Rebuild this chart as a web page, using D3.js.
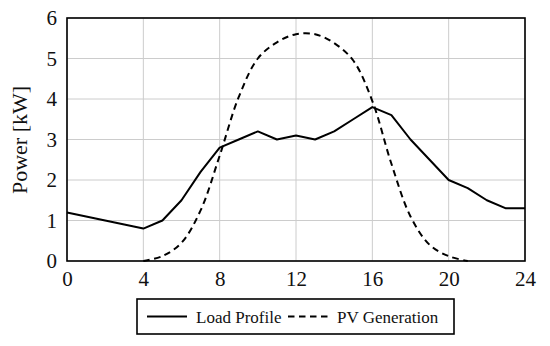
<!DOCTYPE html>
<html><head><meta charset="utf-8">
<script src="https://cdn.jsdelivr.net/npm/d3@7"></script>
<style>body{margin:0;background:#fff}svg{display:block}</style>
</head><body>
<svg id="chart" width="550" height="346"></svg>
<script>
const loadHours = [0,1,2,3,4,5,6,7,8,9,10,11,12,13,14,15,16,17,18,19,20,21,22,23,24];
const loadValues = [1.2,1.1,1.0,0.9,0.8,1.0,1.5,2.2,2.8,3.0,3.2,3.0,3.1,3.0,3.2,3.5,3.8,3.6,3.0,2.5,2.0,1.8,1.5,1.3,1.3];
const pvHours = [4,5,6,7,8,9,10,11,12,13,14,15,16,17,18,19,20,21];
const pvValues = [0,0.12,0.45,1.25,2.6,4.05,5.0,5.4,5.6,5.6,5.38,4.95,3.95,2.4,1.1,0.4,0.12,0];
const xTicks = [0,4,8,12,16,20,24];
const yTicks = [0,1,2,3,4,5,6];
const seriesNames = ["Load Profile","PV Generation"];

const svg = d3.select("#chart");
const L = 67, R = 525, T = 18, B = 261;
const x = d3.scaleLinear().domain([0,24]).range([L,R]);
const y = d3.scaleLinear().domain([0,6]).range([B,T]);
const font = "'Liberation Serif','Times New Roman',serif";

// grid
svg.append("g").selectAll("line").data(xTicks).join("line")
  .attr("x1",d=>x(d)).attr("x2",d=>x(d)).attr("y1",T).attr("y2",B)
  .attr("stroke","#cccccc").attr("stroke-width",1);
svg.append("g").selectAll("line").data(yTicks).join("line")
  .attr("x1",L).attr("x2",R).attr("y1",d=>y(d)).attr("y2",d=>y(d))
  .attr("stroke","#cccccc").attr("stroke-width",1);

// axes
const xAxis = svg.append("g").attr("transform",`translate(0,${B})`)
  .call(d3.axisBottom(x).tickValues(xTicks).tickFormat(d3.format("d")).tickSize(0).tickPadding(10));
const yAxis = svg.append("g").attr("transform",`translate(${L},0)`)
  .call(d3.axisLeft(y).tickValues(yTicks).tickFormat(d3.format("d")).tickSize(0).tickPadding(10));
[xAxis,yAxis].forEach(a=>{
  a.attr("font-family",font).attr("font-size",21);
  a.select(".domain").remove();
  a.selectAll("text").attr("fill","#111");
});

// lines
const lineGen = d3.line().x(d=>x(d[0])).y(d=>y(d[1]));
svg.append("path").datum(loadHours.map((h,i)=>[h,loadValues[i]]))
  .attr("d",lineGen).attr("fill","none").attr("stroke","#000").attr("stroke-width",2)
  .attr("stroke-linejoin","round");
const smooth = d3.line().x(d=>x(d[0])).y(d=>y(d[1])).curve(d3.curveCatmullRom.alpha(0.5));
svg.append("path").datum(pvHours.map((h,i)=>[h,pvValues[i]]))
  .attr("d",smooth).attr("fill","none").attr("stroke","#000").attr("stroke-width",2)
  .attr("stroke-dasharray","6.5,4.5");

// frame
svg.append("rect").attr("x",L).attr("y",T).attr("width",R-L).attr("height",B-T)
  .attr("fill","none").attr("stroke","#000").attr("stroke-width",1.6);

// y label
svg.append("text").attr("transform","translate(27,140) rotate(-90)")
  .attr("text-anchor","middle").attr("font-family",font).attr("font-size",22)
  .attr("fill","#111").text("Power [kW]");

// legend
const lg = svg.append("g");
lg.append("rect").attr("x",137).attr("y",299).attr("width",317).attr("height",35)
  .attr("fill","#fff").attr("stroke","#000").attr("stroke-width",1.6);
lg.append("line").attr("x1",147).attr("x2",187).attr("y1",316.5).attr("y2",316.5)
  .attr("stroke","#000").attr("stroke-width",2);
lg.append("text").attr("x",196).attr("y",322.5).attr("font-family",font).attr("font-size",17)
  .attr("fill","#111").text(seriesNames[0]);
lg.append("line").attr("x1",288).attr("x2",328).attr("y1",316.5).attr("y2",316.5)
  .attr("stroke","#000").attr("stroke-width",2).attr("stroke-dasharray","6.5,4.5");
lg.append("text").attr("x",337).attr("y",322.5).attr("font-family",font).attr("font-size",17)
  .attr("fill","#111").text(seriesNames[1]);
</script>
</body></html>
